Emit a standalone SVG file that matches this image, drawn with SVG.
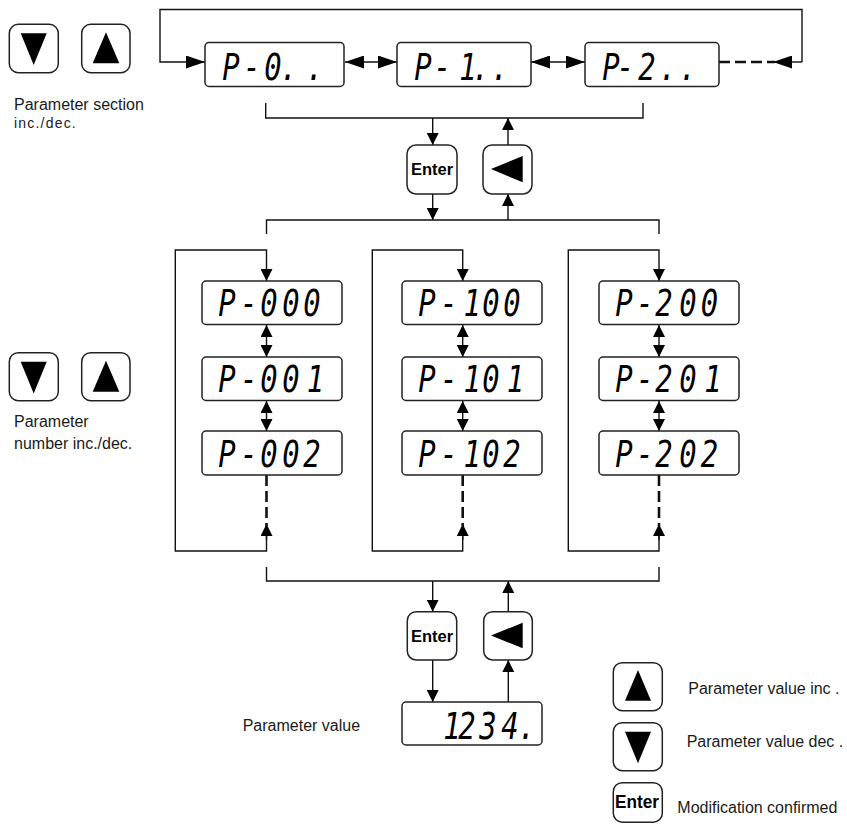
<svg xmlns="http://www.w3.org/2000/svg" width="847" height="831" viewBox="0 0 847 831">
<style>
.bg{fill:#fff}
.disp{fill:#fff;stroke:#222;stroke-width:1.5}
.btn{fill:#fff;stroke:#222;stroke-width:1.5}
.tri{fill:#000}
.ln{fill:none;stroke:#111;stroke-width:1.4}
.dash{fill:none;stroke:#111;stroke-width:2.6;stroke-dasharray:11 5}
.seg{font-family:"DejaVu Sans Mono",monospace;font-style:oblique;font-size:37px;fill:#000;text-anchor:middle}
.lbl{font-family:"Liberation Sans",Arial,sans-serif;font-size:16px;fill:#1a1a1a}
.small{font-family:"Liberation Sans",Arial,sans-serif;font-size:14px;fill:#1a1a1a;letter-spacing:1.2px}
.ent{font-family:"Liberation Sans",Arial,sans-serif;font-weight:bold;font-size:16.5px;fill:#000;text-anchor:middle}
</style>
<defs>
<marker id="av" viewBox="0 0 12 12" markerWidth="12" markerHeight="12" refX="12" refY="6" orient="auto-start-reverse" markerUnits="userSpaceOnUse"><path d="M0,0 L12,6 L0,12 Z" fill="#000"/></marker>
<marker id="ah" viewBox="0 0 19 13" markerWidth="19" markerHeight="13" refX="19" refY="6.5" orient="auto-start-reverse" markerUnits="userSpaceOnUse"><path d="M0,0 L19,6.5 L0,13 Z" fill="#000"/></marker>
</defs>
<rect class="bg" x="0" y="0" width="847" height="831"/>

<g id="connectors">
  <!-- top ring -->
  <path class="ln" d="M802,62 L802,9.5 L160,9.5 L160,62 L205,62" marker-end="url(#ah)"/>
  <path class="ln" d="M802,62 L773,62" marker-end="url(#ah)"/>
  <path class="dash" d="M719,62 L775,62"/>
  <path class="ln" d="M345,62 L397,62" marker-start="url(#ah)" marker-end="url(#ah)"/>
  <path class="ln" d="M531,62 L585,62" marker-start="url(#ah)" marker-end="url(#ah)"/>
  <!-- top bracket -->
  <path class="ln" d="M265.7,103 L265.7,118 L643,118 L643,103"/>
  <path class="ln" d="M432.7,118 L432.7,145" marker-end="url(#av)"/>
  <path class="ln" d="M508,145 L508,118" marker-end="url(#av)"/>
  <path class="ln" d="M432.7,194 L432.7,220" marker-end="url(#av)"/>
  <path class="ln" d="M508,220 L508,194" marker-end="url(#av)"/>
  <!-- middle bracket -->
  <path class="ln" d="M266.5,234 L266.5,220 L659,220 L659,234"/>
  <!-- column loops -->
  <path class="ln" d="M266.5,536 L266.5,551 L175.3,551 L175.3,250 L266.5,250 L266.5,281" marker-end="url(#av)"/>
  <path class="ln" d="M266.5,540 L266.5,524" marker-end="url(#av)"/>
  <path class="dash" d="M266.5,475 L266.5,526"/>
  <path class="ln" d="M266.5,325 L266.5,357" marker-start="url(#av)" marker-end="url(#av)"/>
  <path class="ln" d="M266.5,401 L266.5,431" marker-start="url(#av)" marker-end="url(#av)"/>

  <path class="ln" d="M462.7,536 L462.7,551 L372.3,551 L372.3,250 L462.7,250 L462.7,281" marker-end="url(#av)"/>
  <path class="ln" d="M462.7,540 L462.7,524" marker-end="url(#av)"/>
  <path class="dash" d="M462.7,475 L462.7,526"/>
  <path class="ln" d="M462.7,325 L462.7,357" marker-start="url(#av)" marker-end="url(#av)"/>
  <path class="ln" d="M462.7,401 L462.7,431" marker-start="url(#av)" marker-end="url(#av)"/>

  <path class="ln" d="M659,536 L659,551 L568.3,551 L568.3,250 L659,250 L659,281" marker-end="url(#av)"/>
  <path class="ln" d="M659,540 L659,524" marker-end="url(#av)"/>
  <path class="dash" d="M659,475 L659,526"/>
  <path class="ln" d="M659,325 L659,357" marker-start="url(#av)" marker-end="url(#av)"/>
  <path class="ln" d="M659,401 L659,431" marker-start="url(#av)" marker-end="url(#av)"/>
  <!-- bottom bracket -->
  <path class="ln" d="M266.5,567 L266.5,581 L659,581 L659,567"/>
  <path class="ln" d="M432.7,581 L432.7,611.7" marker-end="url(#av)"/>
  <path class="ln" d="M508.3,611.7 L508.3,581" marker-end="url(#av)"/>
  <path class="ln" d="M432.7,660 L432.7,702" marker-end="url(#av)"/>
  <path class="ln" d="M508.3,702 L508.3,660" marker-end="url(#av)"/>
</g>

<!-- top row displays -->
<g id="P0">
  <rect class="disp" x="205" y="42.5" width="139" height="44" rx="4"/>
  <text class="seg" transform="translate(205,80) scale(0.78,1)" x="33.3 60.3 87.2 107.7 141" y="0">P-0..</text>
</g>
<g id="P1">
  <rect class="disp" x="397" y="42.5" width="134" height="44" rx="4"/>
  <text class="seg" transform="translate(397,80) scale(0.78,1)" x="33.3 58.3 91 107.7 132" y="0">P-1..</text>
</g>
<g id="P2">
  <rect class="disp" x="585" y="42.5" width="134" height="44" rx="4"/>
  <text class="seg" transform="translate(585,80) scale(0.78,1)" x="33.3 52 79.5 106.4 132" y="0">P-2..</text>
</g>

<!-- column 0 -->
<g id="P000"><rect class="disp" x="202" y="281" width="140" height="43.5" rx="4"/><text class="seg" transform="translate(202,316) scale(0.78,1)" x="32.1 60.3 85.9 114.1 141" y="0">P-000</text></g>
<g id="P001"><rect class="disp" x="202" y="357" width="140" height="43.5" rx="4"/><text class="seg" transform="translate(202,392) scale(0.78,1)" x="32.1 60.3 85.9 114.1 145.5" y="0">P-001</text></g>
<g id="P002"><rect class="disp" x="202" y="431" width="140" height="44" rx="4"/><text class="seg" transform="translate(202,466.5) scale(0.78,1)" x="32.1 60.3 85.9 114.1 141" y="0">P-002</text></g>
<!-- column 1 -->
<g id="P100"><rect class="disp" x="402" y="281" width="140" height="43.5" rx="4"/><text class="seg" transform="translate(402,316) scale(0.78,1)" x="32.1 60.3 90 114.1 141" y="0">P-100</text></g>
<g id="P101"><rect class="disp" x="402" y="357" width="140" height="43.5" rx="4"/><text class="seg" transform="translate(402,392) scale(0.78,1)" x="32.1 60.3 90 114.1 145.5" y="0">P-101</text></g>
<g id="P102"><rect class="disp" x="402" y="431" width="140" height="44" rx="4"/><text class="seg" transform="translate(402,466.5) scale(0.78,1)" x="32.1 60.3 90 114.1 141" y="0">P-102</text></g>
<!-- column 2 -->
<g id="P200"><rect class="disp" x="599" y="281" width="140" height="43.5" rx="4"/><text class="seg" transform="translate(599,316) scale(0.78,1)" x="32.1 59 83.3 114.1 141.7" y="0">P-200</text></g>
<g id="P201"><rect class="disp" x="599" y="357" width="140" height="43.5" rx="4"/><text class="seg" transform="translate(599,392) scale(0.78,1)" x="32.1 59 83.3 114.1 146" y="0">P-201</text></g>
<g id="P202"><rect class="disp" x="599" y="431" width="140" height="44" rx="4"/><text class="seg" transform="translate(599,466.5) scale(0.78,1)" x="32.1 59 83.3 114.1 141.7" y="0">P-202</text></g>

<!-- nav buttons -->
<g id="enter1"><rect class="btn" x="407" y="145" width="50" height="49" rx="9"/><text class="ent" x="432" y="175">Enter</text></g>
<g id="back1"><rect class="btn" x="483" y="145" width="49" height="49" rx="9"/><path class="tri" d="M491,169 L522.7,156 L522.7,182.3 Z"/></g>
<g id="enter2"><rect class="btn" x="407.3" y="611.7" width="49.4" height="48.3" rx="9"/><text class="ent" x="432" y="642">Enter</text></g>
<g id="back2"><rect class="btn" x="483.7" y="611.7" width="48.6" height="48.3" rx="9"/><path class="tri" d="M491,635.5 L522.7,622.7 L522.7,648.3 Z"/></g>

<!-- value display -->
<g id="value"><rect class="disp" x="402" y="702" width="140" height="43" rx="4"/><text class="seg" transform="translate(402,738.5) scale(0.78,1)" x="64.1 83.3 110.3 138.5 160.3" y="0">1234.</text></g>

<!-- left section buttons -->
<g id="secDown"><rect class="btn" x="9.3" y="24.3" width="49" height="48.4" rx="9"/><path class="tri" d="M20.7,33.3 L46.7,33.3 L33.7,65 Z"/></g>
<g id="secUp"><rect class="btn" x="81.7" y="24.3" width="48.3" height="48.4" rx="9"/><path class="tri" d="M92.7,63.3 L119.3,63.3 L106,32.3 Z"/></g>
<g id="secLabel">
  <text class="lbl" x="14" y="110">Parameter section</text>
  <text class="small" x="14" y="128.3">inc./dec.</text>
</g>

<g id="numDown"><rect class="btn" x="9.3" y="352.7" width="49" height="48" rx="9"/><path class="tri" d="M20.7,361.7 L46.7,361.7 L33.7,393.4 Z"/></g>
<g id="numUp"><rect class="btn" x="81.7" y="352.7" width="48.3" height="48" rx="9"/><path class="tri" d="M92.7,391.7 L119.3,391.7 L106,360.7 Z"/></g>
<g id="numLabel">
  <text class="lbl" x="14" y="427.3">Parameter</text>
  <text class="lbl" x="14" y="449.3">number inc./dec.</text>
</g>

<g id="valueLabel"><text class="lbl" x="242.7" y="730.7">Parameter value</text></g>

<!-- legend -->
<g id="legUp"><rect class="btn" x="613.3" y="662.7" width="49" height="48" rx="9"/><path class="tri" d="M625,700.7 L651,700.7 L638,670 Z"/><text class="lbl" x="688.3" y="694">Parameter value inc .</text></g>
<g id="legDown"><rect class="btn" x="613.3" y="722.7" width="49" height="48" rx="9"/><path class="tri" d="M625,731.7 L651,731.7 L638,763.3 Z"/><text class="lbl" x="686.7" y="746.7">Parameter value dec .</text></g>
<g id="legEnter"><rect class="btn" x="613.3" y="782.7" width="49" height="39.5" rx="9"/><text class="ent" x="637" y="808.3" style="font-size:18px" textLength="44" lengthAdjust="spacingAndGlyphs">Enter</text><text class="lbl" x="677.3" y="813.3">Modification confirmed</text></g>
</svg>
